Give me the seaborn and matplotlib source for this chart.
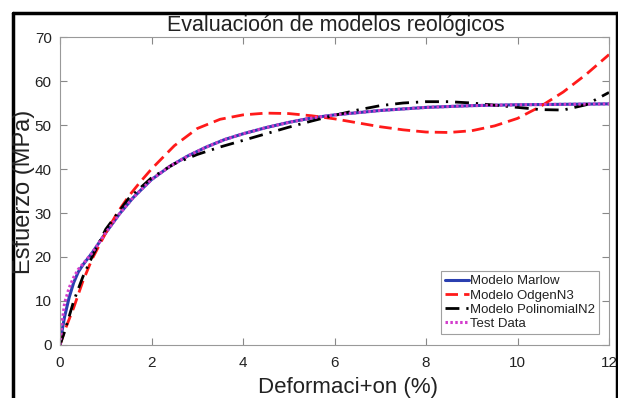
import matplotlib
matplotlib.use("Agg")
import matplotlib.pyplot as plt
import seaborn as sns
from matplotlib.lines import Line2D

sns.set_theme(style="white")
plt.rcParams['font.family'] = ['Liberation Sans', 'DejaVu Sans']

# ---- data ----
x_marlow = [0, 0.05, 0.1, 0.2, 0.3, 0.4, 0.5, 0.7, 1.0, 1.3, 1.6, 2.0, 2.4, 2.8, 3.2, 3.6, 4.0,
            4.5, 5.0, 5.5, 6.0, 7.0, 8.0, 9.0, 10.0, 11.0, 12.0]
y_marlow = [0, 3.5, 6.4, 10.8, 14.2, 16.6, 18.2, 20.9, 25.5, 29.8, 33.5, 37.6, 40.6, 43.0, 45.0, 46.7, 48.0,
            49.4, 50.6, 51.6, 52.3, 53.3, 54.0, 54.4, 54.6, 54.7, 54.8]

x_test = [0, 0.05, 0.1, 0.2, 0.3, 0.4, 0.5, 0.7, 1.0, 1.3, 1.6, 2.0, 2.4, 2.8, 3.2, 3.6, 4.0,
          4.5, 5.0, 5.5, 6.0, 7.0, 8.0, 9.0, 10.0, 11.0, 12.0]
y_test = [0, 5.5, 9.5, 13.0, 15.4, 17.2, 18.4, 20.9, 25.5, 29.8, 33.5, 37.6, 40.6, 43.0, 45.0, 46.7, 48.0,
          49.4, 50.6, 51.6, 52.3, 53.3, 54.0, 54.4, 54.6, 54.7, 54.8]

x_odgen = [0, 0.1, 0.3, 0.5, 0.7, 1.0, 1.25, 1.5, 1.75, 2.0, 2.5, 3.0, 3.5, 4.0, 4.5, 5.0, 5.5, 6.0,
           6.5, 7.0, 7.5, 8.0, 8.5, 9.0, 9.5, 10.0, 10.5, 11.0, 11.5, 12.0]
y_odgen = [0, 3.2, 8.5, 14.5, 19.5, 25.5, 30.0, 33.8, 37.0, 40.0, 45.3, 49.2, 51.3, 52.3, 52.7, 52.6, 52.1, 51.4,
           50.5, 49.6, 48.9, 48.4, 48.3, 48.7, 49.8, 51.5, 54.2, 57.5, 61.5, 66.0]

x_poli = [0, 0.1, 0.3, 0.5, 0.7, 1.0, 1.5, 2.0, 2.5, 3.0, 3.5, 4.0, 4.5, 5.0, 5.5, 6.0, 6.5, 7.0,
          7.5, 8.0, 8.5, 9.0, 9.5, 10.0, 10.5, 11.0, 11.5, 12.0]
y_poli = [0, 3.0, 10.0, 15.5, 20.0, 26.3, 33.3, 38.0, 41.2, 43.3, 45.0, 46.5, 48.0, 49.5, 50.9, 52.2, 53.4, 54.4,
          55.0, 55.3, 55.3, 55.0, 54.5, 54.0, 53.5, 53.4, 54.6, 57.4]

series_labels = ["Modelo Marlow", "Modelo OdgenN3", "Modelo PolinomialN2", "Test Data"]
x_ticks = [0, 2, 4, 6, 8, 10, 12]
y_ticks = [0, 10, 20, 30, 40, 50, 60, 70]

W, H = 618, 398
fig = plt.figure(figsize=(W / 100, H / 100), dpi=100)
fig.patch.set_facecolor("white")
ax = fig.add_axes([60 / W, 1 - 345 / H, (609 - 60) / W, (345 - 37) / H])
ax.set_facecolor("white")

sns.lineplot(x=x_marlow, y=y_marlow, ax=ax, color="#2a3fb0", lw=2.2, label=series_labels[0],
             sort=False, estimator=None)
sns.lineplot(x=x_odgen, y=y_odgen, ax=ax, color="#ff1a1a", lw=2.0, label=series_labels[1],
             sort=False, estimator=None)
sns.lineplot(x=x_poli, y=y_poli, ax=ax, color="black", lw=2.0, label=series_labels[2],
             sort=False, estimator=None)
sns.lineplot(x=x_test, y=y_test, ax=ax, color="#d23ccc", lw=2.2, label=series_labels[3],
             sort=False, estimator=None)

lines = ax.get_lines()
lines[1].set_linestyle((0, (4.5, 2.2)))
lines[2].set_linestyle((0, (5, 2.5, 0.8, 2.5)))
lines[3].set_linestyle((0, (0.8, 0.8)))

ax.set_xlim(0, 12)
ax.set_ylim(0, 70)
ax.set_xticks(x_ticks)
ax.set_yticks(y_ticks)
ax.tick_params(direction="in", length=5, width=0.8, color="#888888", labelsize=11,
               top=True, right=True, bottom=True, left=True, labelcolor="#222222")
ax.tick_params(axis="x", pad=8)
ax.tick_params(axis="y", pad=6)
for s in ax.spines.values():
    s.set_color("#999999")
    s.set_linewidth(0.8)
ax.set_xlabel("")
ax.set_ylabel("")

fig.text(336 / W, 1 - 30.5 / H, "Evaluacioón de modelos reológicos", ha="center", va="baseline",
         fontsize=15.5, color="#222222")
fig.text(30 / W, 1 - 192 / H, "Esfuerzo (MPa)", ha="center", va="baseline", rotation=90,
         rotation_mode="anchor", fontsize=17, color="#222222")
fig.text(348 / W, 1 - 393 / H, "Deformaci+on (%)", ha="center", va="baseline",
         fontsize=16, color="#222222")

leg = ax.legend(lines, series_labels, loc="lower right",
                bbox_to_anchor=(599 / W, 1 - 334 / H), bbox_transform=fig.transFigure,
                fontsize=9.5, frameon=True, fancybox=False, handlelength=1.8, handletextpad=0.1,
                borderpad=0.3, labelspacing=0.15, borderaxespad=0)
leg.get_frame().set_edgecolor("#888888")
leg.get_frame().set_linewidth(0.8)
for t in leg.get_texts():
    t.set_color("#222222")

# figure frame
for xs, ys in [((13, 13), (13, H + 5)), ((13, 617), (13, 13)), ((617, 617), (13, H + 5))]:
    fig.add_artist(Line2D([x / W for x in xs], [1 - y / H for y in ys], color="black", lw=2.5,
                          transform=fig.transFigure))

fig.savefig("out.png", dpi=100)
